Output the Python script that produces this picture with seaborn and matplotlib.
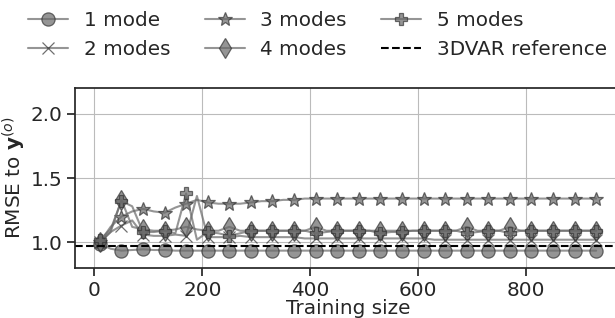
import matplotlib
matplotlib.use("Agg")
import matplotlib.pyplot as plt
import seaborn as sns
import pandas as pd

sns.set_theme(style="ticks")
plt.rcParams['font.family'] = ['DejaVu Sans']

train_size = [10, 30, 50, 70, 90, 110, 130, 150, 170, 190,
              210, 230, 250, 270, 290, 310, 330, 350, 370, 390,
              410, 430, 450, 470, 490, 510, 530, 550, 570, 590,
              610, 630, 650, 670, 690, 710, 730, 750, 770, 790,
              810, 830, 850, 870, 890, 910, 930]

mode1 = [0.99, 0.95, 0.935, 0.94, 0.945, 0.94, 0.94, 0.935, 0.935, 0.935,
         0.935, 0.935, 0.935, 0.935, 0.935, 0.935, 0.935, 0.935, 0.935, 0.935,
         0.935, 0.935, 0.935, 0.935, 0.935, 0.935, 0.935, 0.935, 0.935, 0.935,
         0.935, 0.935, 0.935, 0.935, 0.935, 0.935, 0.935, 0.935, 0.935, 0.935,
         0.935, 0.935, 0.935, 0.935, 0.935, 0.935, 0.935]

mode2 = [1.00, 1.08, 1.13, 1.17, 1.06, 1.05, 1.05, 1.06, 1.05, 1.36,
         1.04, 1.04, 1.04, 1.05, 1.04, 1.04, 1.04, 1.04, 1.04, 1.03,
         1.03, 1.03, 1.03, 1.03, 1.03, 1.03, 1.03, 1.03, 1.03, 1.03,
         1.03, 1.02, 1.02, 1.02, 1.02, 1.02, 1.02, 1.02, 1.02, 1.02,
         1.02, 1.02, 1.02, 1.02, 1.02, 1.02, 1.02]

mode3 = [1.00, 1.12, 1.20, 1.24, 1.26, 1.24, 1.23, 1.27, 1.30, 1.33,
         1.31, 1.30, 1.30, 1.30, 1.31, 1.32, 1.32, 1.33, 1.33, 1.34,
         1.34, 1.34, 1.34, 1.34, 1.34, 1.34, 1.34, 1.34, 1.34, 1.34,
         1.34, 1.34, 1.34, 1.34, 1.34, 1.34, 1.34, 1.34, 1.34, 1.34,
         1.34, 1.34, 1.34, 1.34, 1.34, 1.34, 1.34]

mode4 = [1.00, 1.08, 1.33, 1.12, 1.10, 1.09, 1.09, 1.10, 1.12, 1.10,
         1.09, 1.09, 1.12, 1.09, 1.09, 1.09, 1.09, 1.09, 1.09, 1.09,
         1.12, 1.09, 1.09, 1.09, 1.09, 1.09, 1.09, 1.09, 1.09, 1.09,
         1.09, 1.09, 1.09, 1.09, 1.12, 1.09, 1.09, 1.09, 1.12, 1.09,
         1.09, 1.09, 1.09, 1.09, 1.09, 1.09, 1.09]

mode5 = [1.02, 1.10, 1.32, 1.28, 1.08, 1.08, 1.09, 1.07, 1.38, 1.02,
         1.08, 1.07, 1.05, 1.07, 1.09, 1.09, 1.09, 1.09, 1.09, 1.09,
         1.07, 1.08, 1.09, 1.09, 1.09, 1.09, 1.07, 1.08, 1.08, 1.09,
         1.09, 1.09, 1.09, 1.09, 1.07, 1.08, 1.09, 1.09, 1.07, 1.09,
         1.09, 1.09, 1.09, 1.09, 1.09, 1.09, 1.09]

var3d_ref = 0.975

series = [("1 mode", mode1, "o", 9.5),
          ("2 modes", mode2, "x", 8),
          ("3 modes", mode3, "*", 10),
          ("4 modes", mode4, "d", 10),
          ("5 modes", mode5, "P", 8)]

fig = plt.figure(figsize=(6.15, 3.18), dpi=100)
ax = fig.add_axes([75 / 615, 50 / 318, 546 / 615, 180 / 318])

for name, vals, mk, ms in series:
    df = pd.DataFrame({"Training size": train_size, "RMSE": vals})
    sns.lineplot(data=df, x="Training size", y="RMSE", ax=ax,
                 color="dimgray", alpha=0.7, linewidth=1.5,
                 marker=mk, markersize=ms, markevery=2,
                 markeredgecolor="#333333", markeredgewidth=0.9,
                 label=name)

ax.axhline(var3d_ref, color="black", linestyle="--", linewidth=1.5,
           label="3DVAR reference")

ax.set_ylim(0.8, 2.2)
ax.set_yticks([1.0, 1.5, 2.0])
ax.set_xticks([0, 200, 400, 600, 800])
ax.grid(True, color="#bbbbbb", linewidth=0.8)
ax.tick_params(labelsize=14.4, pad=3)
ax.set_xlabel("Training size", fontsize=14.4, labelpad=0)
ax.set_ylabel(r"RMSE to $\mathbf{y}^{(o)}$", fontsize=14.4, labelpad=2)

handles, labels = ax.get_legend_handles_labels()
ax.legend_.remove()
fig.legend(handles, labels, loc="upper left",
           bbox_to_anchor=(20 / 615, 1 - 3 / 318),
           ncol=3, fontsize=14.4, frameon=False, borderpad=0.4,
           handlelength=2.0, handletextpad=0.8, columnspacing=1.7,
           labelspacing=0.5, borderaxespad=0)

fig.savefig("out.png", dpi=100)
